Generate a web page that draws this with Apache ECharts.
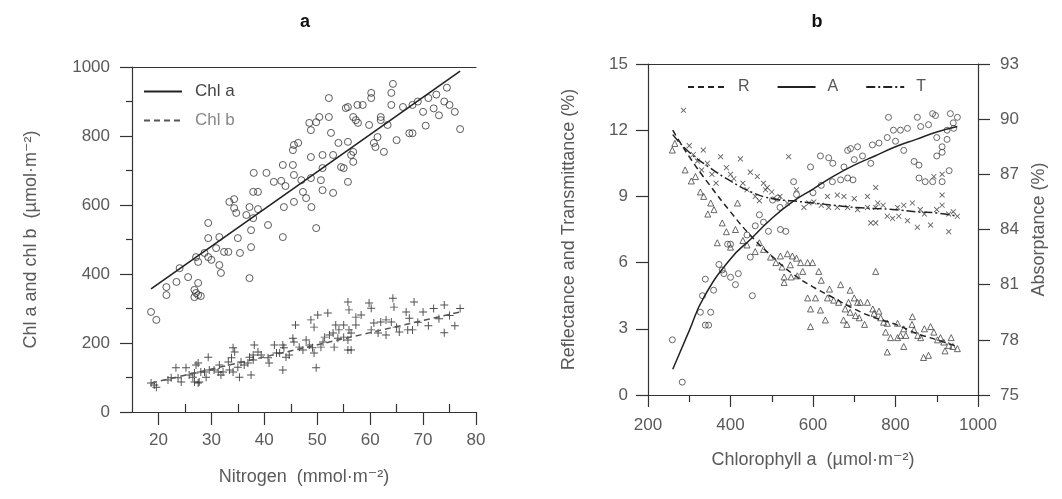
<!DOCTYPE html>
<html><head><meta charset="utf-8">
<script src="https://cdn.jsdelivr.net/npm/echarts@6/dist/echarts.min.js"></script>
<style>html,body{margin:0;padding:0;background:#fff}#c{width:1062px;height:499px}</style>
</head><body><div id="c"></div>
<script>
// ---------- Panel a data (Nitrogen mmol/m2, umol/m2) ----------
const chlA = [[18.6,290],[19.6,267],[21.5,362],[21.5,339],[23.4,377],[24,417],[25.6,391],[26.8,354],[26.8,333],[27.1,449],[27.1,345],[27.5,435],[27.5,374],[27.5,339],[28,336],[28.7,461],[29.4,449],[29.4,548],[29.4,504],[30,441],[30.9,475],[31.5,507],[31.5,426],[31.8,403],[32.4,464],[33.2,464],[33.4,609],[34.3,617],[34.3,591],[34.7,577],[35,504],[35.4,461],[36.6,571],[37.2,594],[37.2,388],[37.5,527],[37.5,478],[37.9,638],[37.9,562],[38,693],[38.8,638],[38.8,588],[40.4,693],[40.7,542],[41.8,667],[43.2,670],[43.5,716],[43.5,507],[43.7,594],[44,655],[45.4,759],[45.4,716],[45.6,774],[45.6,687],[45.6,609],[46.4,780],[47,672],[47.3,638],[47.9,620],[48.5,838],[48.8,739],[48.8,678],[48.8,817],[48.9,594],[49.8,840],[49.8,533],[50.4,855],[50.7,672],[51,745],[51,707],[51,643],[52.2,910],[52.2,855],[52.6,809],[53,745],[53,635],[54,780],[54.5,710],[55,707],[55.4,881],[55.8,783],[55.8,667],[55.8,884],[56.4,745],[56.8,754],[56.8,725],[56.8,855],[57.3,846],[57.6,890],[57.7,838],[58.6,890],[59.8,832],[60.2,925],[60.2,910],[60.7,780],[61,768],[61.4,797],[62,855],[62,846],[62.6,754],[63.3,832],[64,925],[64,890],[64.3,951],[65,788],[66.2,884],[67.4,808],[68,890],[68,808],[69,900],[70,870],[70.5,830],[71,910],[72,880],[72.5,920],[73,860],[74,900],[74.5,940],[75,890],[76,870],[77,820]];
const chlB = [[18.6,84],[19.2,78],[19.6,72],[21.8,93],[22.4,99],[23.3,128],[23.7,99],[24.3,87],[25.2,128],[25.8,107],[26.5,101],[26.8,113],[26.8,87],[27.1,136],[27.5,142],[27.5,84],[27.7,87],[28,116],[28.7,116],[29,101],[29.4,159],[29.6,122],[30.5,122],[31.3,116],[31.5,136],[31.8,107],[32.2,116],[33.2,145],[33.4,122],[33.8,157],[34.1,186],[34.1,116],[34.4,174],[35,130],[35.3,101],[35.6,145],[36.2,136],[36.9,142],[37.2,159],[37.5,107],[37.9,165],[37.9,151],[38.1,194],[38.8,174],[39.4,165],[40.7,157],[40.9,142],[41.9,194],[42.3,171],[42.9,171],[43.5,194],[43.5,122],[43.7,186],[44.1,159],[44.7,165],[45.4,214],[45.6,203],[45.9,252],[46.6,188],[47.3,180],[47.9,209],[48.5,194],[48.8,267],[49.1,186],[49.4,246],[49.4,171],[49.8,128],[50.1,281],[50.7,188],[51.1,203],[51.4,217],[52,287],[52.3,223],[53,229],[53.2,188],[53.5,252],[53.9,214],[54.1,238],[55,217],[55,252],[55.8,209],[55.8,319],[55.8,180],[56,296],[56,238],[56.4,229],[56.4,180],[57.3,275],[57.3,252],[58.3,281],[59.8,316],[60.2,301],[60.2,238],[60.7,258],[61.5,229],[62,261],[63,267],[63,223],[64,261],[64.3,330],[64.5,304],[65,246],[65.5,232],[66.8,290],[67.1,238],[67.4,272],[68,238],[68.3,319],[69,260],[70,290],[71,250],[72,300],[73,270],[74,310],[74,230],[75,280],[76,250],[77,300]];
const chlAFit = [[18.6,357],[77,988]];
const chlBFit = [[18.6,84],[77,290]];
const nTickMajor = [20,30,40,50,60,70,80];
const nTickMinor = [25,35,45,55,65,75];

// ---------- Panel b data (Chlorophyll a umol/m2, %) ----------
const reflPts = [[259,11.1],[265,11.4],[290,10.2],[305,9.7],[315,9.9],[327,9.2],[335,9.0],[345,8.2],[352,8.7],[360,8.4],[417,8.7],[380,7.8],[390,7.4],[412,7.5],[368,6.9],[400,6.7],[430,7.0],[440,6.8],[460,6.5],[470,6.9],[480,6.6],[497,6.25],[510,6.0],[521,6.3],[525,5.8],[538,6.4],[545,5.9],[550,6.3],[560,6.2],[570,6.0],[575,5.6],[587,6.0],[599,6.0],[614,5.6],[620,5.2],[640,4.8],[752,5.6],[530,5.35],[547,5.35],[562,5.4],[530,5.1],[587,4.4],[606,4.4],[594,3.9],[618,3.85],[630,3.4],[594,3.1],[667,5.0],[690,4.75],[635,4.4],[650,4.3],[662,4.2],[686,4.2],[678,3.9],[690,3.75],[674,3.4],[682,3.2],[700,4.4],[708,4.2],[715,4.2],[732,4.2],[703,3.6],[712,3.5],[725,3.2],[745,3.9],[748,3.7],[760,3.8],[764,3.5],[771,3.3],[780,3.25],[776,2.85],[788,2.6],[780,1.95],[805,3.25],[820,3.0],[805,2.6],[812,2.7],[825,2.7],[820,2.2],[840,3.2],[841,3.55],[845,2.95],[854,2.7],[861,2.6],[868,1.7],[870,3.0],[880,1.8],[885,3.1],[893,2.85],[909,2.6],[902,2.5],[917,2.4],[920,2.0],[929,2.25],[935,2.6],[939,2.2],[950,2.1]];
const transPts = [[286,12.9],[300,11.3],[310,10.9],[320,10.6],[330,10.2],[334,11.1],[344,10.5],[355,10.0],[365,9.6],[376,10.8],[390,10.3],[400,10.0],[424,10.7],[408,9.8],[430,9.6],[440,9.3],[448,10.1],[460,9.0],[465,9.9],[470,8.8],[480,9.6],[489,9.4],[485,9.3],[500,9.2],[520,9.0],[538,8.7],[560,9.3],[578,8.5],[590,8.7],[602,8.75],[620,8.6],[635,9.0],[659,9.06],[675,9.0],[638,8.5],[659,8.5],[684,8.5],[700,8.9],[708,8.4],[732,8.5],[752,8.5],[732,9.0],[752,9.4],[757,8.7],[770,8.6],[740,7.8],[752,7.8],[780,8.1],[793,8.0],[808,8.1],[805,8.5],[820,8.6],[841,8.7],[829,7.9],[853,7.6],[860,8.4],[870,8.2],[885,7.7],[900,8.4],[913,8.6],[929,8.2],[940,8.3],[950,8.1],[913,9.06],[929,7.4],[893,9.9],[913,10.0],[541,10.8]];
const absPts = [[259,78.0],[283,75.7],[332,80.4],[339,81.3],[327,79.5],[352,79.5],[339,78.8],[347,78.8],[359,80.7],[372,82.1],[380,81.8],[384,81.6],[400,81.4],[412,81.0],[419,81.6],[440,83.7],[453,80.4],[448,82.5],[400,83.2],[393,83.2],[460,84.2],[470,84.8],[480,84.4],[520,85.2],[560,85.9],[600,86.0],[620,86.4],[700,87.8],[720,88.0],[740,87.6],[800,88.8],[820,88.3],[880,89.7],[900,89.0],[940,89.8],[950,90.1],[900,88.0],[930,87.2],[783,90.1],[853,90.1],[890,90.3],[897,90.2],[933,90.3],[795,89.4],[812,89.4],[829,89.5],[861,89.6],[925,89.4],[941,89.5],[708,88.5],[744,88.6],[760,88.7],[780,89.0],[684,88.3],[691,88.4],[925,88.9],[913,88.5],[913,88.2],[618,88.0],[638,87.9],[648,87.6],[594,87.4],[675,87.4],[845,87.7],[857,87.5],[647,86.6],[667,86.7],[684,86.8],[697,86.7],[857,86.8],[872,86.6],[890,86.6],[913,86.6],[553,86.6],[502,85.6],[514,85.7],[492,83.9],[521,84.0],[534,83.9]];
const reflFit = [[260,12.0],[300,10.8],[350,9.5],[400,8.3],[450,7.2],[500,6.3],[550,5.5],[600,4.9],[650,4.4],[700,3.9],[750,3.5],[800,3.2],[850,2.8],[900,2.5],[950,2.2]];
const absFit = [[260,76.4],[300,78.5],[335,80.3],[400,82.4],[450,83.5],[500,84.6],[550,85.5],[600,86.2],[650,86.9],[700,87.5],[750,88.0],[800,88.5],[850,88.9],[900,89.3],[950,89.6]];
const transFit = [[260,11.8],[300,11.0],[350,10.3],[400,9.7],[450,9.2],[500,8.9],[550,8.8],[600,8.7],[650,8.6],[700,8.5],[750,8.45],[800,8.4],[850,8.3],[900,8.25],[950,8.1]];

const FONT = 'Liberation Sans, Arial, DejaVu Sans, sans-serif';
const GREY = '#5a5a5a';
const plusPath = 'path://M4.4,0H5.6V4.4H10V5.6H5.6V10H4.4V5.6H0V4.4H4.4Z';
const plain = v => String(v);

function valueAxisBase(extra){
  return Object.assign({
    type:'value', splitLine:{show:false},
    axisLine:{show:true, onZero:false, lineStyle:{color:'#333', width:1.2}},
    axisTick:{show:true, inside:false, length:12, lineStyle:{color:'#333', width:1.2}},
    axisLabel:{color:GREY, fontSize:17, fontFamily:FONT, formatter:plain},
    nameTextStyle:{color:GREY, fontSize:18, fontFamily:FONT},
  }, extra);
}

const chart = echarts.init(document.getElementById('c'), null, {renderer:'canvas'});
chart.setOption({
  animation:false,
  backgroundColor:'#fff',
  title:[
    {text:'a', left:300, top:8, textAlign:'center', textStyle:{fontSize:18, fontWeight:'bold', color:'#111', fontFamily:FONT}},
    {text:'b', left:812, top:8, textAlign:'center', textStyle:{fontSize:18, fontWeight:'bold', color:'#111', fontFamily:FONT}}
  ],
  legend:[
    {data:[{name:'Chl a', textStyle:{color:'#444'}},{name:'Chl b', textStyle:{color:'#888'}}], orient:'vertical', left:138, top:78, itemWidth:38, itemHeight:12, itemGap:12,
     itemStyle:{opacity:0}, textStyle:{fontSize:17, fontFamily:FONT, padding:[0,0,0,8]}},
    {data:['R','A','T'], orient:'horizontal', left:682, top:74, itemWidth:38, itemHeight:12, itemGap:27,
     itemStyle:{opacity:0}, textStyle:{fontSize:16, color:'#555', fontFamily:FONT, padding:[0,0,0,7]}}
  ],
  grid:[
    {left:132, top:67, width:344, height:345},
    {left:648, top:64, width:330, height:331}
  ],
  xAxis:[
    valueAxisBase({gridIndex:0, min:15, max:80, name:'Nitrogen  (mmol·m⁻²)', nameLocation:'middle', nameGap:56,
      axisTick:{show:true, length:13, customValues:nTickMajor, lineStyle:{color:'#333', width:1.2}},
      axisLabel:{color:GREY, fontSize:17, fontFamily:FONT, margin:20, customValues:nTickMajor, formatter:plain}}),
    valueAxisBase({gridIndex:0, min:15, max:80, axisLine:{show:false},
      axisTick:{show:true, length:8, customValues:nTickMinor, lineStyle:{color:'#333', width:1.2}}, axisLabel:{show:false}}),
    valueAxisBase({gridIndex:0, min:15, max:80, position:'top', axisTick:{show:false}, axisLabel:{show:false}}),
    valueAxisBase({gridIndex:1, min:200, max:1000, interval:200, name:'Chlorophyll a  (µmol·m⁻²)', nameLocation:'middle', nameGap:56,
      minorTick:{show:true, splitNumber:2, length:7, lineStyle:{color:'#333', width:1.2}},
      axisLabel:{color:GREY, fontSize:17, fontFamily:FONT, margin:22, formatter:plain}}),
    valueAxisBase({gridIndex:1, min:200, max:1000, position:'top', axisTick:{show:false}, axisLabel:{show:false}})
  ],
  yAxis:[
    valueAxisBase({gridIndex:0, min:0, max:1000, interval:200, name:'Chl a and chl b  (µmol·m⁻²)', nameLocation:'middle', nameGap:92,
      minorTick:{show:true, splitNumber:2, length:6, lineStyle:{color:'#333', width:1.2}},
      axisLabel:{color:GREY, fontSize:17, fontFamily:FONT, margin:22, formatter:plain}}),
    valueAxisBase({gridIndex:1, min:0, max:15, interval:3, name:'Reflectance and Transmittance (%)', nameLocation:'middle', nameGap:70,
      axisLabel:{color:GREY, fontSize:17, fontFamily:FONT, margin:20, formatter:plain}}),
    valueAxisBase({gridIndex:1, min:75, max:93, interval:3, position:'right', name:'Absorptance (%)', nameLocation:'middle', nameGap:52,
      axisLabel:{color:GREY, fontSize:17, fontFamily:FONT, margin:22, formatter:plain}})
  ],
  series:[
    {name:'chlA pts', type:'scatter', xAxisIndex:0, yAxisIndex:0, data:chlA, symbol:'circle', symbolSize:7,
     itemStyle:{color:'rgba(0,0,0,0)', borderColor:'#333', borderWidth:1}},
    {name:'chlB pts', type:'scatter', xAxisIndex:0, yAxisIndex:0, data:chlB, symbol:plusPath, symbolSize:8,
     itemStyle:{color:'#222'}},
    {name:'Chl a', type:'line', xAxisIndex:0, yAxisIndex:0, data:chlAFit, symbol:'none',
     lineStyle:{color:'#222', width:1.6}, itemStyle:{color:'#222'}},
    {name:'Chl b', type:'line', xAxisIndex:0, yAxisIndex:0, data:chlBFit, symbol:'none',
     lineStyle:{color:'#555', width:1.5, type:[6,4]}, itemStyle:{color:'#999'}},
    {name:'R pts', type:'scatter', xAxisIndex:3, yAxisIndex:1, data:reflPts, symbol:'triangle', symbolSize:6,
     itemStyle:{color:'rgba(0,0,0,0)', borderColor:'#444', borderWidth:1}},
    {name:'T pts', type:'scatter', xAxisIndex:3, yAxisIndex:1, data:transPts, symbol:plusPath, symbolRotate:45, symbolSize:7,
     itemStyle:{color:'#333'}},
    {name:'A pts', type:'scatter', xAxisIndex:3, yAxisIndex:2, data:absPts, symbol:'circle', symbolSize:6,
     itemStyle:{color:'rgba(0,0,0,0)', borderColor:'#444', borderWidth:1}},
    {name:'R', type:'line', xAxisIndex:3, yAxisIndex:1, data:reflFit, symbol:'none', smooth:true,
     lineStyle:{color:'#222', width:1.5, type:[6,4]}, itemStyle:{color:'#222'}},
    {name:'A', type:'line', xAxisIndex:3, yAxisIndex:2, data:absFit, symbol:'none', smooth:true,
     lineStyle:{color:'#222', width:1.5}, itemStyle:{color:'#222'}},
    {name:'T', type:'line', xAxisIndex:3, yAxisIndex:1, data:transFit, symbol:'none', smooth:true,
     lineStyle:{color:'#222', width:1.5, type:[9,3,2,3]}, itemStyle:{color:'#222'}}
  ]
});
</script></body></html>
